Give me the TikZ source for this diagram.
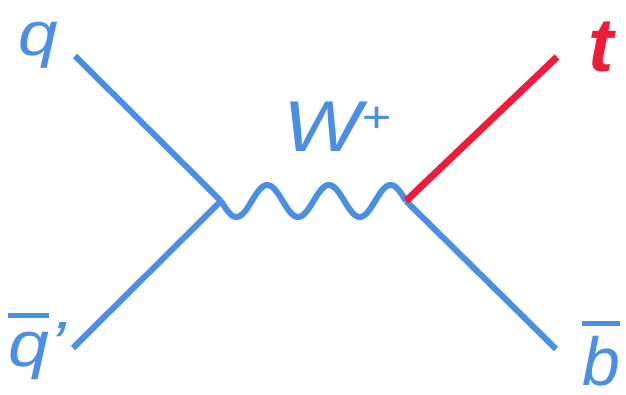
\documentclass[tikz,border=0pt]{standalone}
\usepackage{fontspec}
\setmainfont{Liberation Sans}
\newfontfamily\widefont[FakeStretch=1.15]{Liberation Sans}
\definecolor{fblue}{RGB}{74,142,230}
\definecolor{fred}{RGB}{236,28,58}
\newcommand\obar[3]{\leavevmode\vbox{\hrule height #1 \kern #2 \hbox{#3}}}
\begin{document}
\begin{tikzpicture}[x=1pt,y=-1pt,
  fermion/.style={draw=fblue, line width=6pt},
  topline/.style={draw=fred, line width=7pt},
  boson/.style={draw=fblue, line width=6pt},
  lbl/.style={inner sep=0pt, anchor=base west, text=fblue}]
\useasboundingbox (0,0) rectangle (626,395);
\coordinate (L) at (221,201);
\coordinate (R) at (406,201);
\coordinate (qe) at (75,56);
\coordinate (qbe) at (73,348);
\coordinate (te) at (557,57);
\coordinate (be) at (556,349);
\draw[fermion] (qe) -- (L);
\draw[fermion] (qbe) -- (L);
\draw[fermion] (R) -- (be);
\begin{scope}[shift={(L)}]
\draw[boson] plot[domain=0:185, samples=181, smooth] (\x,{16*sin(\x*5.83784)});
\end{scope}
\draw[topline] (R) -- (te);
\node[lbl, font=\fontsize{62}{62}\selectfont\widefont\itshape] (q) at (18,56) {q};
\node[lbl, font=\fontsize{64}{64}\selectfont\widefont\itshape] (qb) at (8,366) {\obar{4.5pt}{14pt}{q}’};
\node[lbl, font=\fontsize{72}{72}\selectfont\widefont\itshape] (W) at (283,152) {W\raisebox{19pt}{\fontsize{44}{44}\selectfont +}};
\node[lbl, text=fred, font=\fontsize{76}{76}\selectfont\bfseries\itshape] (t) at (588,72) {t};
\node[lbl, font=\fontsize{68}{68}\selectfont\itshape] (b) at (582,385) {\obar{5pt}{10pt}{b}};
\end{tikzpicture}
\end{document}
